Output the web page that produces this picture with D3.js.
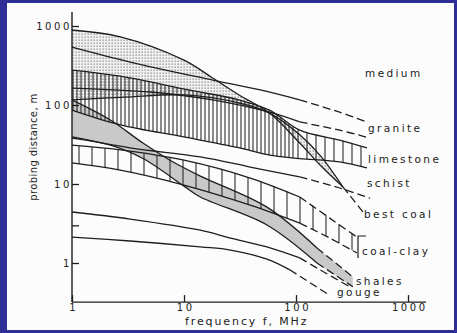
<!DOCTYPE html>
<html>
<head>
<meta charset="utf-8">
<script src="https://cdn.jsdelivr.net/npm/d3@7"></script>
<style>
  body { margin: 0; background: #2e2e96; }
  svg { display: block; }
  text { font-family: "DejaVu Sans", sans-serif; fill: #222; }
</style>
</head>
<body>
<svg id="chart" width="457" height="333"></svg>
<script>
// frequency (MHz), probing distance (m)
var bestCoalTop    = [[1,890],[2.7,730],[10,370],[18,220],[31,134],[58,79],[108,33],[164,17.4],[262,9.2],[398,4.4]];
var bestCoalBottom = [[1,116],[3,126],[10,134],[31,106],[58,79],[108,42],[164,23],[262,9.2]];
var graniteTop     = [[1,540],[3.3,350],[18,207],[48,155],[108,116],[245,81],[430,61]];
var graniteBottom  = [[1,164],[5,146],[18,116],[58,81],[108,61],[245,48],[430,39]];
var limeTop        = [[1,277],[2.7,232],[11,155],[31,116],[58,86],[108,48],[245,36],[430,28.6]];
var limeBottom     = [[1,86],[2.7,56],[10,39.4],[30,29],[60,23],[108,21],[245,19],[430,16]];
var schist         = [[1,39.4],[3.3,28.6],[14,22],[39,16.4],[108,12.3],[245,8.9],[459,6.6]];
var coalClayTop    = [[1,31],[2.7,27],[10,20],[39,11.9],[108,6.85],[200,3.7],[350,2.13]];
var coalClayBottom = [[1,18.5],[2.7,15],[10,9.7],[39,5.4],[108,3.2],[200,2.07],[350,1.34]];
var shalesTop      = [[1,116],[2.2,64.5],[4.3,33],[7.5,20],[14,12.6],[55,5.1],[154,1.55],[322,0.665]];
var shalesBottom   = [[1,38],[2.2,31],[4.3,21],[10,9.4],[14,6.85],[55,3.03],[154,1.0],[322,0.5]];
var gougeTop       = [[1,4.42],[3.3,3.6],[14,2.6],[26,2.07],[55,1.6],[108,1.16],[164,0.82],[302,0.5]];
var gougeBottom    = [[1,2.13],[3.3,1.9],[14,1.6],[26,1.46],[55,1.12],[88,0.82],[200,0.39]];

var xTicks = [1, 10, 100, 1000];
var yTicks = [1, 3, 10, 100, 1000];
var yTickLabels = ["1", "", "10", "100", "1000"];
var media = ["medium", "granite", "limestone", "schist", "best coal", "coal-clay", "shales", "gouge"];

var svg = d3.select("#chart");

// scanned page inside the blue frame
svg.append("rect").attr("x", 7).attr("y", 3).attr("width", 447).attr("height", 327).attr("fill", "#fcfcfc");

var x = d3.scaleLog().domain([1, 1000]).range([72, 408]);
var y = d3.scaleLog().domain([1, 1000]).range([263, 26]);
var yBottom = y(0.32), yTop = y(1500), xRight = x(1450);

var defs = svg.append("defs");
var dots = defs.append("pattern").attr("id", "dots").attr("patternUnits", "userSpaceOnUse")
  .attr("width", 3).attr("height", 3);
dots.append("rect").attr("x", 0.5).attr("y", 0.5).attr("width", 1.3).attr("height", 1.3).attr("fill", "#8c8c8c");

function hatch(id, step) {
  var p = defs.append("pattern").attr("id", id).attr("patternUnits", "userSpaceOnUse")
    .attr("width", step).attr("height", 10);
  p.append("line").attr("x1", 1).attr("x2", 1).attr("y1", 0).attr("y2", 10)
    .attr("stroke", "#2a2a2a").attr("stroke-width", 1.1);
}
hatch("hatchFine", 4);
hatch("hatchMid", 9);
hatch("hatchWide", 13);

defs.append("clipPath").attr("id", "clipL").append("rect")
  .attr("x", 0).attr("y", 0).attr("width", x(100)).attr("height", 333);
defs.append("clipPath").attr("id", "clipR").append("rect")
  .attr("x", x(100)).attr("y", 0).attr("width", 457).attr("height", 333);

var line = d3.line().x(function(d) { return x(d[0]); }).y(function(d) { return y(d[1]); })
  .curve(d3.curveCatmullRom.alpha(0.5));

function upTo(a, f) { return a.filter(function(d) { return d[0] <= f; }); }
function band(top, bottom) {
  var b = line(bottom.slice().reverse());
  return line(top) + "L" + b.slice(1) + "Z";
}

var g = svg.append("g");

// fills
g.append("path").attr("d", band(shalesTop, shalesBottom)).attr("fill", "#c9c9c9");
g.append("path").attr("d", band(upTo(bestCoalTop, 262), bestCoalBottom)).attr("fill", "#f1f1f1");
g.append("path").attr("d", band(upTo(bestCoalTop, 262), bestCoalBottom)).attr("fill", "url(#dots)");
g.append("path").attr("d", band(limeTop, limeBottom)).attr("fill", "url(#hatchFine)").attr("clip-path", "url(#clipL)");
g.append("path").attr("d", band(limeTop, limeBottom)).attr("fill", "url(#hatchMid)").attr("clip-path", "url(#clipR)");
g.append("path").attr("d", band(coalClayTop, coalClayBottom)).attr("fill", "url(#hatchWide)");

// boundary lines: solid, then dashed from the given frequency
var curves = [
  [bestCoalTop, 262], [bestCoalBottom, 1e9], [graniteTop, 108], [graniteBottom, 108],
  [limeTop, 1e9], [limeBottom, 1e9], [schist, 108], [coalClayTop, 108], [coalClayBottom, 108],
  [shalesTop, 154], [shalesBottom, 154], [gougeTop, 108], [gougeBottom, 88]
];
curves.forEach(function(c) {
  var pts = c[0], fd = c[1];
  var solid = pts.filter(function(d) { return d[0] <= fd; });
  var dashed = pts.filter(function(d) { return d[0] >= fd; });
  g.append("path").attr("d", line(solid)).attr("fill", "none")
    .attr("stroke", "#1e1e1e").attr("stroke-width", 1.3);
  if (dashed.length > 1) {
    g.append("path").attr("d", line(dashed)).attr("fill", "none")
      .attr("stroke", "#1e1e1e").attr("stroke-width", 1.3).attr("stroke-dasharray", "8,4");
  }
});

// axes
svg.append("line").attr("x1", x(1)).attr("x2", x(1)).attr("y1", yTop).attr("y2", yBottom)
  .attr("stroke", "#1e1e1e").attr("stroke-width", 1.4);
svg.append("line").attr("x1", x(1)).attr("x2", xRight).attr("y1", yBottom).attr("y2", yBottom)
  .attr("stroke", "#1e1e1e").attr("stroke-width", 1.4);

var yAxis = svg.append("g").attr("transform", "translate(" + x(1) + ",0)")
  .call(d3.axisLeft(y).tickValues(yTicks).tickSizeInner(-7).tickSizeOuter(0).tickPadding(0)
    .tickFormat(function(d, i) { return yTickLabels[i]; }));
var xAxis = svg.append("g").attr("transform", "translate(0," + yBottom + ")")
  .call(d3.axisBottom(x).tickValues(xTicks).tickSizeInner(-7).tickSizeOuter(0).tickPadding(2)
    .tickFormat(function(d) { return d; }));
[yAxis, xAxis].forEach(function(a) {
  a.select(".domain").remove();
  a.selectAll(".tick line").attr("stroke", "#1e1e1e").attr("stroke-width", 1.3);
  a.selectAll(".tick text").attr("font-family", "DejaVu Sans").attr("font-size", 10)
    .attr("letter-spacing", 2.6).attr("fill", "#222");
});
xAxis.selectAll(".tick text").attr("dx", 1.3);

svg.append("text").attr("x", 185).attr("y", 325).attr("font-size", 11).attr("letter-spacing", 1.9)
  .text("frequency f, MHz");
svg.append("text").attr("transform", "translate(37,147) rotate(-90)").attr("text-anchor", "middle")
  .attr("font-size", 10).attr("letter-spacing", 0.4).text("probing distance, m");

// labels column
var labelPos = [[365,77],[368,132],[368,163],[367,187],[364,218],[362,255],[356,285],[337,296]];
media.forEach(function(m, i) {
  svg.append("text").attr("x", labelPos[i][0]).attr("y", labelPos[i][1])
    .attr("font-size", 10.5).attr("letter-spacing", 2.4).text(m);
});
// bracket in front of coal-clay
var cc = labelPos[5];
svg.append("path").attr("d", "M" + (cc[0] + 4) + "," + (cc[1] - 19) + "H" + (cc[0] - 4) + "V" + (cc[1] + 3))
  .attr("fill", "none").attr("stroke", "#1e1e1e").attr("stroke-width", 1.2);
</script>
</body>
</html>
